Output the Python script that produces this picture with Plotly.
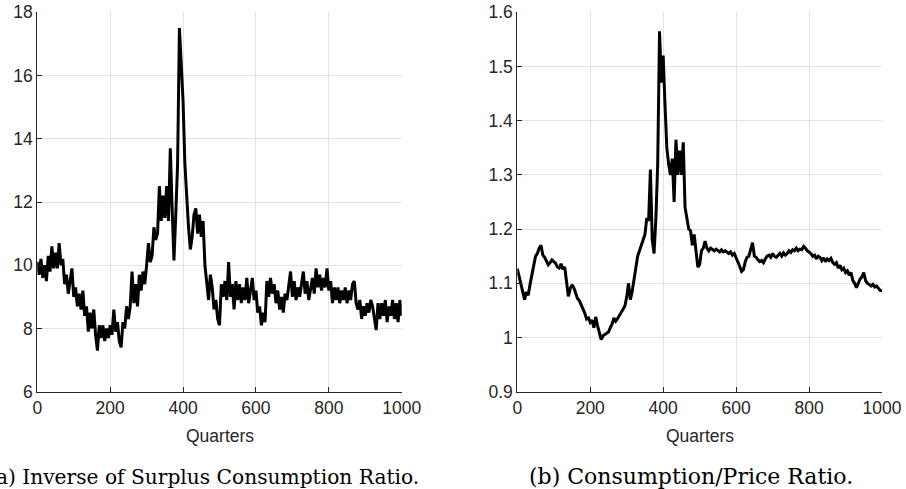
import plotly.graph_objects as go

# Quarter index (every 5 quarters)
quarters = list(range(0, 1001, 5))

# (a) Inverse of surplus consumption ratio
inv_surplus = [
    10.1, 9.7, 10.2, 9.6, 10.0, 9.5, 10.3, 9.8, 10.6, 9.9,
    10.4, 9.9, 10.7, 10.0, 10.2, 9.4, 9.7, 9.1, 9.5, 9.9,
    9.0, 9.3, 8.7, 9.1, 8.6, 9.2, 8.4, 8.7, 7.9, 8.5,
    8.0, 8.6, 7.8, 7.3, 8.1, 7.7, 8.1, 7.6, 8.0, 7.7,
    8.1, 7.8, 8.6, 7.9, 8.2, 7.6, 7.4, 8.2, 8.0, 8.7,
    8.3, 8.7, 9.8, 8.8, 9.4, 8.7, 9.7, 9.2, 9.8, 9.4,
    10.0, 10.7, 10.1, 10.3, 11.2, 10.8, 11.0, 12.5, 11.4, 12.2,
    11.5, 12.5, 11.4, 13.7, 11.8, 10.15, 11.6, 13.2, 17.5, 16.3,
    15.2, 13.2, 12.0, 11.2, 10.5, 10.9, 11.6, 11.8, 11.0, 11.6,
    10.9, 11.4, 10.0, 9.5, 8.9, 9.7, 9.3, 8.6, 8.9, 8.3,
    8.1, 9.4, 9.0, 9.5, 8.9, 10.1, 9.0, 9.4, 8.6, 9.5,
    8.9, 9.4, 8.8, 9.3, 8.9, 9.6, 8.8, 9.2, 9.6, 8.9,
    9.2, 8.5, 8.7, 8.1, 8.5, 8.2, 9.5, 9.0, 9.6, 9.1,
    9.4, 8.8, 9.2, 8.6, 9.0, 8.5, 9.1, 8.9, 9.4, 9.8,
    9.0, 9.5, 8.9, 9.3, 9.0, 9.4, 9.8, 9.1, 9.5, 8.9,
    9.3, 9.6, 9.1, 9.9, 9.3, 9.7, 9.2, 9.6, 9.3, 9.9,
    9.2, 9.5, 8.8, 9.3, 8.9, 9.3, 8.8, 9.2, 8.9, 9.3,
    8.8, 9.2, 8.9, 9.4, 9.5, 8.8, 8.6, 8.9, 8.3, 8.7,
    8.4, 8.8, 8.5, 8.9, 8.7, 8.3, 7.95, 8.8, 8.3, 8.8,
    8.4, 8.9, 8.2, 8.7, 8.4, 8.9, 8.3, 8.8, 8.2, 8.9,
    8.4,
]

# (b) Consumption/price ratio
cp_ratio = [
    1.127, 1.112, 1.100, 1.085, 1.070, 1.084, 1.078, 1.098, 1.118, 1.135,
    1.150, 1.155, 1.165, 1.170, 1.152, 1.148, 1.140, 1.134, 1.138, 1.143,
    1.140, 1.137, 1.130, 1.128, 1.136, 1.126, 1.130, 1.106, 1.076, 1.090,
    1.097, 1.092, 1.080, 1.072, 1.068, 1.060, 1.055, 1.045, 1.034, 1.036,
    1.028, 1.032, 1.018, 1.038, 1.022, 1.008, 0.996, 1.003, 1.005, 1.008,
    1.010, 1.018, 1.025, 1.036, 1.030, 1.035, 1.040, 1.045, 1.052, 1.058,
    1.075, 1.100, 1.070, 1.085, 1.110, 1.130, 1.150, 1.160, 1.170, 1.180,
    1.190, 1.220, 1.215, 1.310, 1.180, 1.155, 1.220, 1.320, 1.565, 1.470,
    1.520, 1.430, 1.350, 1.320, 1.300, 1.330, 1.250, 1.365, 1.300, 1.345,
    1.300, 1.360, 1.240, 1.220, 1.200, 1.197, 1.170, 1.190, 1.160, 1.130,
    1.135, 1.160, 1.165, 1.178, 1.165, 1.160, 1.165, 1.162, 1.160, 1.163,
    1.160, 1.158, 1.162, 1.158, 1.160, 1.157, 1.155, 1.158, 1.152, 1.155,
    1.148, 1.140, 1.131, 1.122, 1.125, 1.140, 1.148, 1.150, 1.162, 1.175,
    1.150, 1.148, 1.143, 1.140, 1.142, 1.138, 1.145, 1.150, 1.152, 1.148,
    1.155, 1.150, 1.148, 1.152, 1.155, 1.150, 1.156, 1.152, 1.155, 1.160,
    1.157, 1.162, 1.160, 1.165, 1.160, 1.163, 1.162, 1.168, 1.165, 1.160,
    1.158, 1.155, 1.150, 1.152, 1.145, 1.150, 1.148, 1.142, 1.147, 1.140,
    1.145, 1.142, 1.146, 1.138, 1.135, 1.138, 1.128, 1.133, 1.125, 1.128,
    1.120, 1.123, 1.115, 1.120, 1.105, 1.100, 1.092, 1.100, 1.108, 1.112,
    1.120, 1.105, 1.100, 1.098, 1.095, 1.098, 1.093, 1.095, 1.090, 1.087,
    1.086,
]

x_ticks = [0, 200, 400, 600, 800, 1000]
y_ticks_a = [6, 8, 10, 12, 14, 16, 18]
y_ticks_b = [0.9, 1.0, 1.1, 1.2, 1.3, 1.4, 1.5, 1.6]
y_ticklabels_b = ["0.9", "1", "1.1", "1.2", "1.3", "1.4", "1.5", "1.6"]
caption_a = "(a) Inverse of Surplus Consumption Ratio."
caption_b = "(b) Consumption/Price Ratio."
x_title = "Quarters"

W, H = 906, 489
AX = "#262626"
GRID = "#e3e3e3"
SANS = "Liberation Sans, Arial, sans-serif"
TICKFONT = dict(family=SANS, size=17.5, color=AX)

fig = go.Figure()
fig.add_trace(go.Scatter(x=quarters, y=inv_surplus, mode="lines",
                         line=dict(color="black", width=3),
                         xaxis="x", yaxis="y", showlegend=False))
fig.add_trace(go.Scatter(x=quarters, y=cp_ratio, mode="lines",
                         line=dict(color="black", width=3),
                         xaxis="x2", yaxis="y2", showlegend=False))

ydom = [1 - 391.7 / H, 1 - 12.3 / H]
common_x = dict(range=[0, 1000], tickvals=x_ticks, showgrid=True, gridcolor=GRID,
                gridwidth=1, showline=True, linecolor=AX, linewidth=1,
                ticks="inside", ticklen=5, tickcolor=AX, tickfont=TICKFONT,
                zeroline=False, mirror=False, automargin=False)
common_y = dict(showgrid=True, gridcolor=GRID, gridwidth=1, showline=True,
                linecolor=AX, linewidth=1, ticks="inside", ticklen=5,
                tickcolor=AX, tickfont=TICKFONT, zeroline=False, automargin=False)

fig.update_layout(
    width=W, height=H,
    margin=dict(l=0, r=0, t=0, b=0, autoexpand=False),
    paper_bgcolor="white", plot_bgcolor="white",
    xaxis=dict(domain=[37.3 / W, 401.7 / W], anchor="y", **common_x),
    yaxis=dict(domain=ydom, anchor="x", range=[6, 18], tickvals=y_ticks_a, **common_y),
    xaxis2=dict(domain=[517.3 / W, 882 / W], anchor="y2", **common_x),
    yaxis2=dict(domain=ydom, anchor="x2", range=[0.9, 1.6], tickvals=y_ticks_b,
                ticktext=y_ticklabels_b, **common_y),
    annotations=[
        dict(text=x_title, x=(37.3 + 401.7) / 2 / W, y=1 - 436 / H, xref="paper",
             yref="paper", xanchor="center", yanchor="middle", showarrow=False,
             font=dict(family=SANS, size=17.5, color=AX)),
        dict(text=x_title, x=(517.3 + 882) / 2 / W, y=1 - 436 / H, xref="paper",
             yref="paper", xanchor="center", yanchor="middle", showarrow=False,
             font=dict(family=SANS, size=17.5, color=AX)),
        dict(text=caption_a, x=421 / W, y=1 - 477 / H, xref="paper", yref="paper",
             xanchor="right", yanchor="middle", showarrow=False,
             font=dict(family="DejaVu Serif, serif", size=20.2, color="black")),
        dict(text=caption_b, x=690.5 / W, y=1 - 476 / H, xref="paper", yref="paper",
             xanchor="center", yanchor="middle", showarrow=False,
             font=dict(family="DejaVu Serif, serif", size=22, color="black")),
    ],
)

fig.write_html("out.html", config={"displayModeBar": False},
               post_script="document.body.style.margin='0';document.body.style.overflow='hidden';")
